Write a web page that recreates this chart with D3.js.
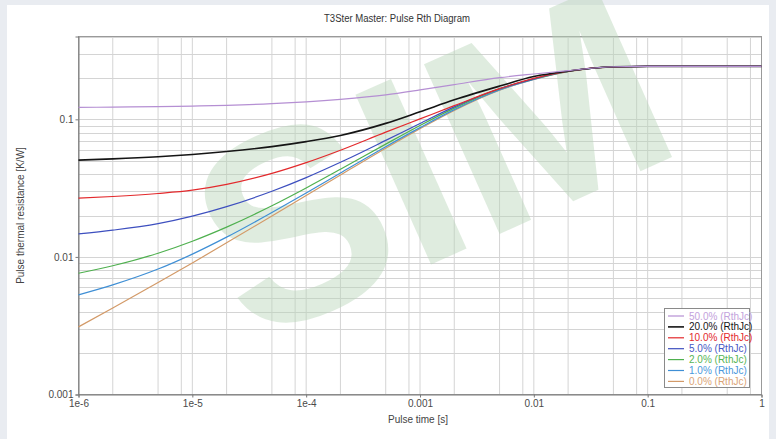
<!DOCTYPE html>
<html>
<head>
<meta charset="utf-8">
<script src="https://cdn.jsdelivr.net/npm/d3@7"></script>
<style>
  html, body { margin: 0; padding: 0; background: #e9ecf1; }
  svg { display: block; }
  text { font-family: "Liberation Sans Narrow", "Arial Narrow", "Liberation Sans", Arial, sans-serif; }
</style>
</head>
<body>
<svg id="chart" width="776" height="439"></svg>
<script>
// Pulse times [s]
const times = [1e-6, 2e-6, 5e-6, 1e-5, 2e-5, 5e-5, 1e-4, 2e-4, 5e-4, 1e-3, 2e-3, 5e-3, 1e-2, 2e-2, 5e-2, 1e-1, 2e-1, 5e-1, 1];

// Pulse thermal resistance [K/W] for each duty cycle
const duty50 = [0.1220, 0.1227, 0.1238, 0.1249, 0.1265, 0.1300, 0.1341, 0.1398, 0.1505, 0.1635, 0.1789, 0.2007, 0.2136, 0.2260, 0.2412, 0.2425, 0.2425, 0.2425, 0.2425];
const duty20 = [0.0505, 0.05157, 0.05349, 0.05557, 0.05834, 0.06333, 0.06884, 0.07638, 0.09346, 0.1135, 0.1387, 0.1744, 0.2046, 0.2239, 0.2408, 0.2425, 0.2425, 0.2425, 0.2425];
const duty10 = [0.02674, 0.02749, 0.02891, 0.03056, 0.03367, 0.04045, 0.04843, 0.05963, 0.08067, 0.1007, 0.1257, 0.1670, 0.1986, 0.2238, 0.2408, 0.2425, 0.2425, 0.2425, 0.2425];
const duty5  = [0.01470, 0.01565, 0.01746, 0.01979, 0.02320, 0.02999, 0.03770, 0.04872, 0.07029, 0.09339, 0.1232, 0.1667, 0.1970, 0.2235, 0.2408, 0.2425, 0.2425, 0.2425, 0.2425];
const duty2  = [0.00761, 0.00862, 0.01064, 0.01301, 0.01647, 0.02354, 0.03171, 0.04333, 0.06605, 0.09023, 0.1207, 0.1664, 0.1965, 0.2232, 0.2408, 0.2425, 0.2425, 0.2425, 0.2425];
const duty1  = [0.00530, 0.00626, 0.00816, 0.01048, 0.01392, 0.02102, 0.02913, 0.04077, 0.06328, 0.08704, 0.1177, 0.1637, 0.1952, 0.2226, 0.2406, 0.2425, 0.2425, 0.2425, 0.2425];
const duty0  = [0.00310, 0.00425, 0.00651, 0.00904, 0.01266, 0.01983, 0.02795, 0.03940, 0.06171, 0.08547, 0.1160, 0.1628, 0.1950, 0.2225, 0.2405, 0.2425, 0.2425, 0.2425, 0.2425];

const seriesNames = ["50.0% (RthJc)", "20.0% (RthJc)", "10.0% (RthJc)", "5.0% (RthJc)", "2.0% (RthJc)", "1.0% (RthJc)", "0.0% (RthJc)"];
const seriesValues = [duty50, duty20, duty10, duty5, duty2, duty1, duty0];
const lineColors = ["#b58fd3", "#151515", "#e3292c", "#3d4fbf", "#4fb04f", "#3f8fd5", "#d39a68"];
const textColors = ["#c3a2dc", "#151515", "#e3292c", "#4656c4", "#56b556", "#4a98dc", "#dba476"];

const xTickValues = [1e-6, 1e-5, 1e-4, 1e-3, 1e-2, 1e-1, 1];
const xTickLabels = ["1e-6", "1e-5", "1e-4", "0.001", "0.01", "0.1", "1"];
const yTickValues = [0.001, 0.01, 0.1];
const yTickLabels = ["0.001", "0.01", "0.1"];

const titleText = "T3Ster Master: Pulse Rth Diagram";
const xLabel = "Pulse time [s]";
const yLabel = "Pulse thermal resistance [K/W]";
const stampText = "SIM";

const svg = d3.select("#chart");
const W = 776, H = 439;
const plot = { left: 78.5, right: 761.5, top: 36.5, bottom: 394.5 };

// page panel
svg.append("rect").attr("x", 7).attr("y", 5).attr("width", 762).attr("height", H - 5).attr("fill", "#ffffff");

const x = d3.scaleLog().domain([1e-6, 1]).range([plot.left, plot.right]);
const y = d3.scaleLog().domain([0.001, 0.4]).range([plot.bottom, plot.top]);

// grid: 1-2-5-8 per decade in time, every integer step in resistance
const xGrid = [];
for (let e = -6; e < 0; e++) [1, 2, 5, 8].forEach(m => xGrid.push(m * Math.pow(10, e)));
const yGrid = [];
for (let e = -3; e < 0; e++) for (let m = 1; m <= 9; m++) { const v = m * Math.pow(10, e); if (v <= 0.4) yGrid.push(v); }

const g = svg.append("g");
g.selectAll("line.gx").data(xGrid.filter(v => v > 1e-6)).join("line")
  .attr("x1", d => x(d)).attr("x2", d => x(d))
  .attr("y1", plot.top).attr("y2", plot.bottom)
  .attr("stroke", "#d4d4d4").attr("stroke-width", 1);
g.selectAll("line.gy").data(yGrid.filter(v => v > 0.001)).join("line")
  .attr("y1", d => Math.round(y(d)) + 0.5).attr("y2", d => Math.round(y(d)) + 0.5)
  .attr("x1", plot.left).attr("x2", plot.right)
  .attr("stroke", "#d4d4d4").attr("stroke-width", 1);

// frame
svg.append("rect").attr("x", plot.left).attr("y", plot.top)
  .attr("width", plot.right - plot.left).attr("height", plot.bottom - plot.top)
  .attr("fill", "none").attr("stroke", "#9a9a9a").attr("stroke-width", 1);

// faint stamp across the plot
svg.append("text")
  .attr("transform", "translate(250,345) rotate(-24)")
  .attr("fill", "#b9d4b9").attr("fill-opacity", 0.45)
  .style("font-family", '"Liberation Sans", Arial, sans-serif')
  .style("font-weight", "bold").style("font-size", "270px")
  .text(stampText);

// axes
const xAxis = d3.axisBottom(x).tickValues(xTickValues).tickSize(3)
  .tickFormat((d, i) => xTickLabels[i]);
const gx = svg.append("g").attr("transform", `translate(0,${plot.bottom})`).call(xAxis);
const yAxis = d3.axisLeft(y).tickValues(yTickValues).tickSize(3)
  .tickFormat((d, i) => yTickLabels[i]);
const gy = svg.append("g").attr("transform", `translate(${plot.left},0)`).call(yAxis);
[gx, gy].forEach(a => {
  a.select(".domain").attr("stroke", "#7a7a7a");
  a.selectAll(".tick line").attr("stroke", "#7a7a7a");
  a.selectAll(".tick text").attr("fill", "#4a4a4a").style("font-size", "10px")
    .style("font-family", '"Liberation Sans Narrow", "Arial Narrow", "Liberation Sans", sans-serif');
});
gx.selectAll(".tick text").attr("dy", "0.6em");
gy.selectAll(".tick text").attr("x", -5);

// curves
const line = d3.line().x((d, i) => x(times[i])).y(d => y(d)).curve(d3.curveMonotoneX);
seriesValues.slice().reverse().forEach((vals, k) => {
  const idx = seriesValues.length - 1 - k;
  svg.append("path").datum(vals).attr("d", line)
    .attr("fill", "none").attr("stroke", lineColors[idx])
    .attr("stroke-width", idx === 1 ? 1.6 : 1.2);
});

// title and axis labels
svg.append("text").attr("x", 397).attr("y", 22).attr("text-anchor", "middle")
  .attr("fill", "#333").style("font-size", "10px")
  .attr("textLength", 146).attr("lengthAdjust", "spacingAndGlyphs").text(titleText);
svg.append("text").attr("x", 418).attr("y", 423).attr("text-anchor", "middle")
  .attr("fill", "#444").style("font-size", "10px").text(xLabel);
svg.append("text").attr("transform", `translate(24,${(plot.top + plot.bottom) / 2}) rotate(-90)`)
  .attr("text-anchor", "middle").attr("fill", "#444").style("font-size", "10px").text(yLabel);

// legend
const lg = svg.append("g").attr("transform", "translate(664,308)");
lg.append("rect").attr("x", 0.5).attr("y", 0.5).attr("width", 85).attr("height", 79)
  .attr("fill", "#fff").attr("stroke", "#8a8a8a");
seriesNames.forEach((name, i) => {
  const yy = 8 + i * 10.9;
  lg.append("line").attr("x1", 4).attr("x2", 20).attr("y1", yy).attr("y2", yy)
    .attr("stroke", lineColors[i]).attr("stroke-width", i === 1 ? 1.6 : 1.2);
  lg.append("text").attr("x", 25).attr("y", yy).attr("dy", "0.35em")
    .attr("fill", textColors[i]).style("font-size", "10px").text(name);
});
</script>
</body>
</html>
